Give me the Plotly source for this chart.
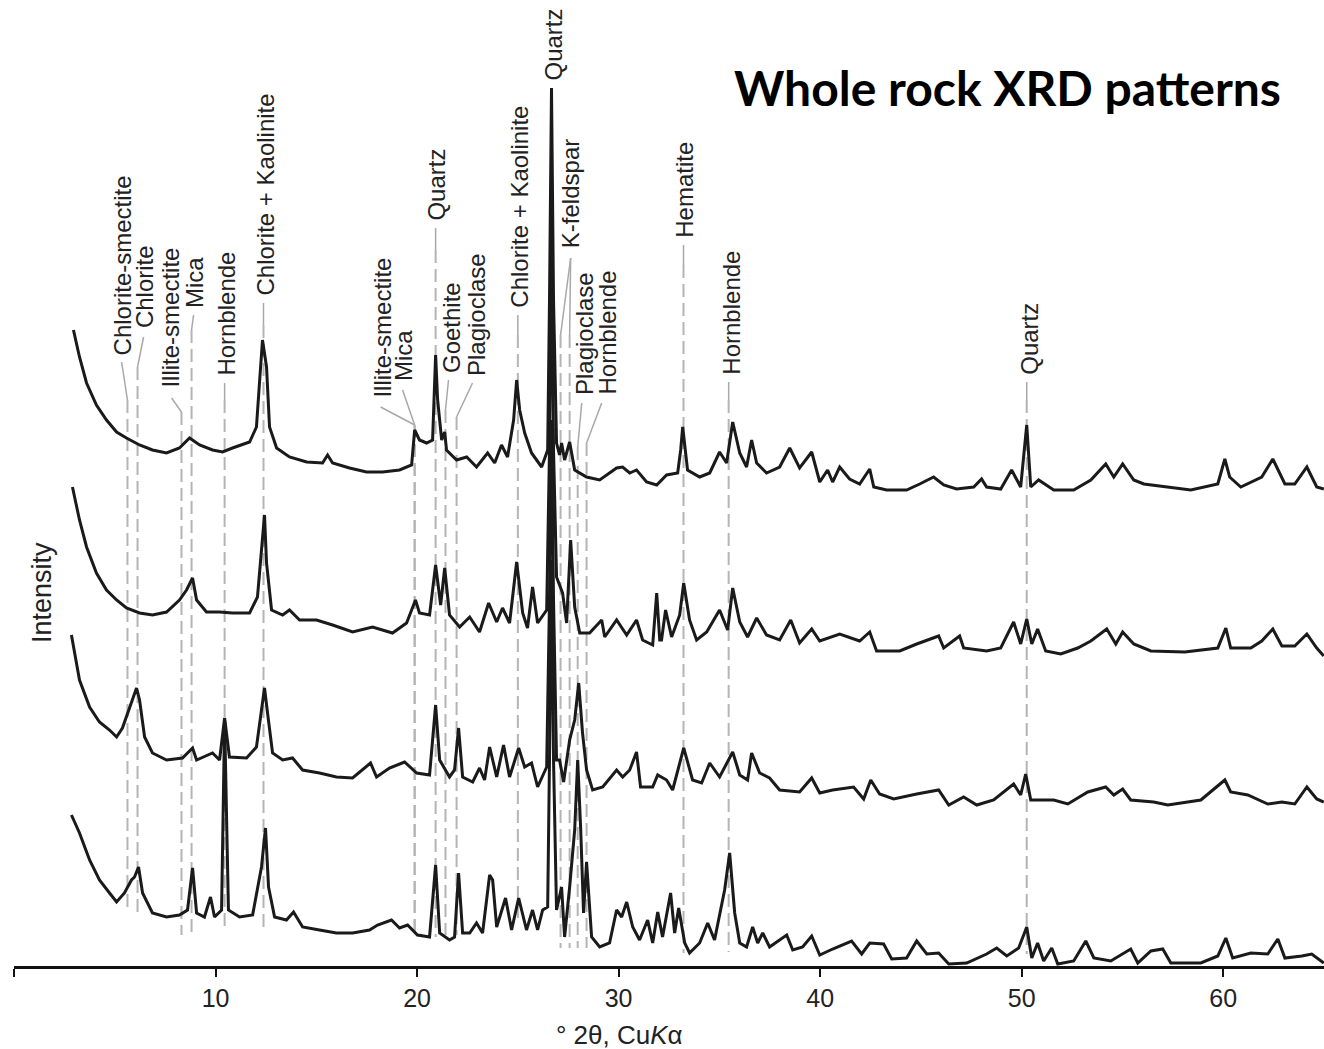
import plotly.graph_objects as go

# ---------------- data: 2-theta (deg) and intensity (a.u.) ----------------
theta_1 = [2.95, 3.25, 3.60, 4.09, 4.59, 5.09, 5.58, 6.23, 6.87, 7.57, 8.21, 8.71, 9.21, 9.85, 10.35, 10.84,
           11.69, 12.03, 12.18, 12.33, 12.53, 12.68, 13.03, 13.67, 14.52, 15.31, 15.56, 15.81, 16.65, 17.49,
           18.29, 19.13, 19.73, 19.88, 20.12, 20.47, 20.77, 20.92, 21.02, 21.22, 21.37, 21.46, 21.96, 22.46,
           22.95, 23.50, 23.85, 24.19, 24.49, 24.79, 24.94, 25.09, 25.34, 25.68, 26.18, 26.48, 26.57, 26.67,
           26.77, 26.92, 27.07, 27.17, 27.32, 27.57, 27.82, 28.41, 29.06, 29.90, 30.20, 30.55, 30.89, 31.39,
           31.89, 32.38, 32.93, 33.08, 33.18, 33.33, 33.42, 34.02, 34.52, 35.01, 35.36, 35.66, 35.86, 36.01,
           36.35, 36.60, 36.85, 37.34, 37.99, 38.49, 38.98, 39.58, 39.98, 40.37, 40.62, 40.97, 41.46, 41.96,
           42.46, 42.66, 43.30, 44.29, 44.94, 45.63, 46.13, 46.77, 47.62, 48.01, 48.26, 48.96, 49.50, 49.95,
           50.25, 50.45, 50.84, 51.59, 52.58, 53.43, 54.17, 54.57, 55.01, 55.56, 56.06, 57.25, 58.39, 59.73,
           60.08, 60.32, 60.87, 61.91, 62.46, 63.06, 63.55, 64.15, 64.64, 64.99]
int_1 = [166, 139, 113, 91, 76, 64, 58, 51, 46, 43, 48, 58, 51, 46, 44, 48,
         54, 69, 113, 156, 129, 69, 48, 39, 34, 33, 41, 33, 28, 24,
         24, 26, 31, 66, 56, 53, 56, 141, 96, 56, 64, 46, 36, 39,
         29, 43, 33, 51, 39, 76, 116, 86, 63, 43, 29, 46, 196, 408,
         196, 53, 41, 53, 36, 54, 26, 19, 16, 28, 29, 23, 26, 14,
         11, 21, 23, 46, 69, 41, 26, 19, 23, 44, 33, 74, 56, 43,
         29, 56, 33, 23, 29, 48, 28, 44, 14, 26, 14, 29, 17, 12,
         27, 9, 6, 6, 12, 19, 11, 7, 9, 17, 9, 7, 26, 9,
         71, 9, 16, 6, 6, 16, 32, 19, 32, 16, 12, 9, 6, 12,
         37, 19, 9, 19, 37, 12, 12, 29, 9, 7]

theta_2 = [2.90, 3.25, 3.60, 4.09, 4.59, 5.09, 5.58, 6.23, 6.87, 7.57, 8.21, 8.56, 8.86, 9.06, 9.55, 10.20,
           10.84, 11.69, 12.08, 12.28, 12.43, 12.53, 12.78, 13.33, 13.67, 14.17, 15.01, 15.81, 16.80, 17.79,
           18.78, 19.48, 19.92, 20.12, 20.62, 20.92, 21.17, 21.37, 21.61, 22.11, 22.61, 23.10, 23.55, 23.95,
           24.24, 24.59, 24.94, 25.24, 25.48, 25.73, 25.98, 26.43, 26.57, 26.67, 26.77, 26.92, 27.22, 27.42,
           27.62, 27.82, 28.07, 28.56, 29.16, 29.31, 29.90, 30.40, 30.89, 31.19, 31.69, 31.89, 32.04, 32.13,
           32.33, 32.63, 33.03, 33.23, 33.52, 33.87, 34.37, 35.01, 35.41, 35.66, 36.01, 36.40, 36.85, 37.34,
           37.99, 38.54, 38.98, 39.58, 39.98, 40.97, 41.96, 42.46, 42.80, 43.95, 44.79, 45.88, 46.13, 46.92,
           47.12, 48.26, 48.96, 49.60, 49.95, 50.25, 50.50, 50.79, 51.19, 51.94, 52.78, 53.43, 54.22, 54.67,
           55.01, 55.56, 56.41, 58.09, 59.73, 60.13, 60.37, 61.37, 61.91, 62.46, 62.91, 63.55, 64.15, 64.64,
           64.99]
int_2 = [169, 136, 109, 83, 66, 56, 48, 43, 41, 44, 56, 66, 78, 56, 44, 44,
         43, 43, 59, 109, 141, 93, 46, 41, 46, 36, 36, 31, 24, 29,
         23, 33, 56, 43, 41, 91, 51, 88, 41, 29, 39, 24, 53, 34,
         48, 33, 94, 43, 28, 69, 33, 46, 206, 426, 206, 79, 63, 33,
         116, 49, 23, 23, 36, 19, 36, 21, 36, 16, 11, 63, 16, 16,
         46, 19, 41, 73, 36, 16, 24, 46, 26, 68, 34, 19, 38, 21,
         16, 36, 13, 27, 15, 22, 15, 24, 5, 5, 12, 20, 8, 20,
         8, 5, 8, 34, 12, 37, 12, 27, 5, 2, 8, 15, 27, 12,
         24, 12, 5, 4, 8, 28, 8, 8, 15, 27, 10, 10, 22, 8,
         0]

theta_3 = [2.85, 3.25, 3.75, 4.24, 4.74, 5.09, 5.38, 5.73, 6.08, 6.23, 6.48, 6.87, 7.57, 8.36, 8.86, 9.06,
           9.85, 10.20, 10.45, 10.69, 11.54, 12.03, 12.28, 12.43, 12.58, 12.83, 13.33, 13.82, 14.32, 15.16,
           16.00, 16.80, 17.69, 17.99, 18.63, 19.38, 19.98, 20.62, 20.92, 21.12, 21.61, 21.86, 22.06, 22.26,
           22.76, 23.10, 23.35, 23.60, 23.95, 24.29, 24.59, 25.04, 25.34, 25.68, 25.98, 26.43, 26.57, 26.67,
           26.77, 26.92, 27.07, 27.27, 27.57, 27.82, 28.02, 28.21, 28.41, 28.71, 29.21, 29.90, 30.20, 30.55,
           30.89, 31.09, 31.69, 31.94, 32.38, 32.68, 33.23, 33.67, 34.12, 34.52, 35.01, 35.66, 36.01, 36.40,
           36.60, 37.00, 37.49, 37.99, 38.98, 39.58, 39.98, 40.62, 41.66, 42.16, 42.51, 42.95, 43.65, 44.79,
           45.88, 46.38, 47.12, 47.77, 48.61, 49.60, 49.95, 50.20, 50.45, 51.59, 52.29, 53.28, 54.17, 54.57,
           55.01, 55.41, 56.55, 57.25, 58.89, 59.63, 60.08, 60.37, 61.22, 62.21, 62.91, 63.55, 64.15, 64.64,
           64.99]
int_3 = [181, 136, 109, 94, 86, 79, 88, 109, 128, 116, 79, 63, 56, 58, 68, 56,
         63, 56, 98, 59, 58, 69, 109, 128, 103, 63, 56, 58, 46, 43,
         39, 38, 53, 39, 48, 54, 43, 41, 111, 56, 39, 46, 88, 39,
         34, 48, 36, 69, 39, 71, 39, 68, 49, 53, 29, 49, 216, 396,
         216, 56, 56, 34, 76, 96, 133, 83, 46, 26, 29, 46, 39, 46,
         64, 29, 29, 41, 36, 26, 68, 36, 33, 53, 39, 64, 41, 36,
         63, 43, 38, 26, 24, 38, 23, 26, 29, 17, 36, 22, 17, 22,
         26, 11, 19, 11, 16, 32, 21, 42, 16, 16, 12, 24, 29, 21,
         27, 16, 14, 11, 16, 29, 36, 24, 21, 12, 14, 12, 29, 17,
         14]

theta_4 = [2.85, 3.25, 3.75, 4.24, 4.74, 5.09, 5.48, 5.83, 5.98, 6.18, 6.38, 6.87, 7.57, 8.21, 8.61, 8.86,
           9.06, 9.45, 9.75, 9.95, 10.30, 10.45, 10.64, 11.19, 11.84, 12.28, 12.48, 12.63, 12.93, 13.52,
           13.87, 14.32, 15.16, 16.00, 16.80, 17.64, 18.04, 18.73, 19.13, 19.53, 20.02, 20.62, 20.92, 21.12,
           21.61, 21.86, 22.06, 22.26, 22.61, 22.95, 23.25, 23.60, 23.75, 23.95, 24.39, 24.69, 25.04, 25.43,
           25.73, 25.98, 26.23, 26.48, 26.57, 26.67, 26.77, 26.92, 27.17, 27.32, 27.57, 27.82, 27.97, 28.12,
           28.26, 28.41, 28.66, 29.06, 29.55, 29.90, 30.15, 30.40, 30.70, 31.04, 31.44, 31.69, 31.94, 32.18,
           32.58, 32.78, 32.98, 33.28, 33.52, 34.02, 34.42, 34.76, 35.26, 35.51, 35.76, 36.01, 36.35, 36.65,
           36.90, 37.15, 37.49, 38.34, 38.64, 39.13, 39.58, 39.98, 40.62, 41.56, 42.06, 42.46, 43.15, 43.55,
           44.29, 44.79, 45.29, 45.88, 46.38, 47.27, 48.26, 48.76, 49.26, 49.85, 50.25, 50.50, 50.79, 51.09,
           51.49, 51.79, 52.58, 53.18, 53.58, 54.42, 55.41, 55.76, 56.41, 57.00, 57.40, 58.89, 59.73, 60.13,
           60.47, 61.37, 62.21, 62.71, 63.06, 63.90, 64.39, 64.99]
int_4 = [151, 133, 106, 86, 73, 64, 73, 86, 89, 99, 73, 53, 49, 51, 56, 98,
         53, 49, 69, 49, 56, 246, 56, 49, 51, 99, 138, 79, 49, 46,
         54, 39, 36, 33, 33, 36, 41, 46, 38, 41, 31, 29, 101, 33,
         26, 29, 93, 33, 33, 43, 33, 91, 86, 39, 68, 36, 68, 36,
         56, 36, 56, 59, 206, 406, 206, 56, 79, 29, 79, 136, 206, 136,
         53, 104, 29, 19, 23, 56, 49, 64, 39, 26, 46, 23, 54, 29,
         73, 33, 58, 23, 13, 23, 43, 26, 76, 113, 53, 23, 19, 39,
         23, 33, 19, 31, 16, 19, 30, 11, 17, 25, 12, 23, 22, 7,
         8, 25, 12, 13, 2, 3, 12, 18, 10, 18, 39, 8, 23, 5,
         18, 2, 5, 25, 8, 5, 17, 3, 15, 17, 3, 3, 10, 28,
         8, 13, 12, 27, 8, 10, 12, 3]

sample_names = ["Sample 1", "Sample 2", "Sample 3", "Sample 4"]

# mineral labels and the 2-theta positions they mark
mineral_names = ["Chlorite-smectite", "Chlorite", "Illite-smectite", "Mica", "Hornblende",
                 "Chlorite + Kaolinite", "Illite-smectite", "Mica", "Quartz", "Goethite",
                 "Plagioclase", "Chlorite + Kaolinite", "Quartz", "K-feldspar", "Plagioclase",
                 "Hornblende", "Hematite", "Hornblende", "Quartz"]
mineral_peaks = [[5.63], [6.13], [8.31], [8.81], [10.45], [12.38], [19.88], [19.88], [20.92], [21.41],
                 [21.96], [25.0], [], [27.12, 27.57], [27.97], [28.41], [33.22], [35.46], [50.25]]

x_ticks = [0, 10, 20, 30, 40, 50, 60]
x_tick_text = ["", "10", "20", "30", "40", "50", "60"]

# ---------------- layout helpers (positions of labels, leaders and guides) ----------------
offsets = [470, 310, 150, 0]
# text centre x, text bottom y, leader start (x, y), guide top y, guide bottom y
label_layout = [
    (5.38, 609, (5.34, 604), 566, 54),
    (6.48, 636, (6.43, 629), 599, 54),
    (7.72, 576, (7.82, 568), 554, 31),
    (8.96, 656, (8.91, 651), 636, 31),
    (10.50, 588, (10.45, 583), 566, 34),
    (12.43, 668, (12.38, 663), 641, 34),
    (18.24, 566, (18.19, 559), 541, 29),
    (19.33, 583, (19.28, 576), 541, 29),
    (20.92, 743, (20.92, 738), 716, 29),
    (21.71, 591, (21.56, 586), 556, 31),
    (22.95, 588, (22.75, 583), 549, 31),
    (25.04, 656, (25.0, 651), 631, 46),
    (26.72, 883, None, None, None),
    (27.62, 716, (27.62, 708), 631, 18),
    (28.31, 569, (28.17, 563), 519, 18),
    (29.40, 569, (29.16, 563), 523, 18),
    (33.23, 726, (33.22, 721), 701, 13),
    (35.56, 589, (35.46, 584), 566, 14),
    (50.35, 589, (50.25, 584), 566, 12),
]

FONT = "Liberation Sans, Arial, Helvetica, sans-serif"
fig = go.Figure()

shapes = []
for (tx, ty, lead, gtop, gbot), peaks in zip(label_layout, mineral_peaks):
    for p in peaks:
        shapes.append(dict(type="line", xref="x", yref="y", x0=p, x1=p, y0=gtop, y1=gbot,
                           line=dict(color="#b4b4b4", width=2, dash="13px,6px"), layer="below"))
        if lead is not None:
            shapes.append(dict(type="line", xref="x", yref="y", x0=lead[0], y0=lead[1], x1=p, y1=gtop,
                               line=dict(color="#a8a8a8", width=1.5), layer="below"))

for th, iv, off, name in zip([theta_1, theta_2, theta_3, theta_4], [int_1, int_2, int_3, int_4],
                             offsets, sample_names):
    fig.add_trace(go.Scatter(x=th, y=[v + off for v in iv], mode="lines", name=name,
                             line=dict(color="#1a1a1a", width=3), showlegend=False))

annotations = []
for (tx, ty, lead, gtop, gbot), name in zip(label_layout, mineral_names):
    annotations.append(dict(x=tx, y=ty, xref="x", yref="y", text=name, textangle=-90,
                            showarrow=False, xanchor="center", yanchor="bottom",
                            font=dict(family=FONT, size=24, color="#222222")))

# axis title (placed in paper coordinates below the axis line)
annotations.append(dict(x=30.05, y=-69 / 966, xref="x", yref="paper", text="° 2θ, Cu<i>K</i>α",
                        showarrow=False, xanchor="center", yanchor="middle",
                        font=dict(family=FONT, size=26, color="#222222")))
annotations.append(dict(x=0.0, y=373 / 966, xref="paper", yref="paper", xshift=28, text="Intensity",
                        textangle=-90, showarrow=False, xanchor="center", yanchor="middle",
                        font=dict(family=FONT, size=27, color="#222222")))
annotations.append(dict(x=(1283 - 14) / 20.15, y=(966 - 118) / 966, xref="x", yref="paper",
                        text="<b>Whole rock XRD patterns</b>", showarrow=False,
                        xanchor="right", yanchor="bottom",
                        font=dict(family="Lato, Open Sans, sans-serif", size=48, color="#000000")))

fig.update_layout(
    width=1324, height=1049,
    margin=dict(l=14, r=0, t=0, b=83),
    paper_bgcolor="white", plot_bgcolor="white",
    shapes=shapes, annotations=annotations,
    xaxis=dict(range=[0, 65], tickvals=x_ticks, ticktext=x_tick_text, showgrid=False, zeroline=False,
               showline=True, linecolor="#111111", linewidth=2.5, ticks="outside", ticklen=8,
               tickwidth=2, tickcolor="#111111", tickfont=dict(family=FONT, size=25, color="#222222")),
    yaxis=dict(range=[0, 966], visible=False, showgrid=False, zeroline=False),
)

fig.write_html("out.html")
